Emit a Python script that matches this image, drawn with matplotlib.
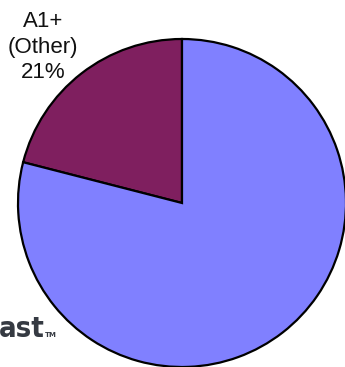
import matplotlib
matplotlib.use("Agg")
import matplotlib.pyplot as plt

labels = ["A1+\n(Other)\n21%", ""]
values = [21, 79]
colors = ["#7F1F5F", "#8080FF"]

W, H = 345, 367
fig = plt.figure(figsize=(W / 100, H / 100), dpi=100)
ax = fig.add_axes([0, 0, 1, 1])

ax.pie(values, colors=colors, startangle=90, counterclock=True,
       center=(182, H - 203), radius=164,
       wedgeprops=dict(edgecolor="black", linewidth=1.6))

ax.set_xlim(0, W)
ax.set_ylim(0, H)
ax.set_aspect("auto")
ax.axis("off")

ax.text(43, H - 47, labels[0], ha="center", va="center", fontsize=16,
        family="Liberation Sans", color="#111111", linespacing=1.3)

# partial logo text at lower left
ax.text(-1, H - 337, "ast", ha="left", va="baseline", fontsize=21,
        family="DejaVu Sans", stretch="condensed", weight="bold",
        color="#353a42")
ax.text(45, H - 337, "TM", ha="left", va="baseline", fontsize=5,
        family="DejaVu Sans", weight="bold", color="#353a42")

fig.savefig("out.png", dpi=100)
